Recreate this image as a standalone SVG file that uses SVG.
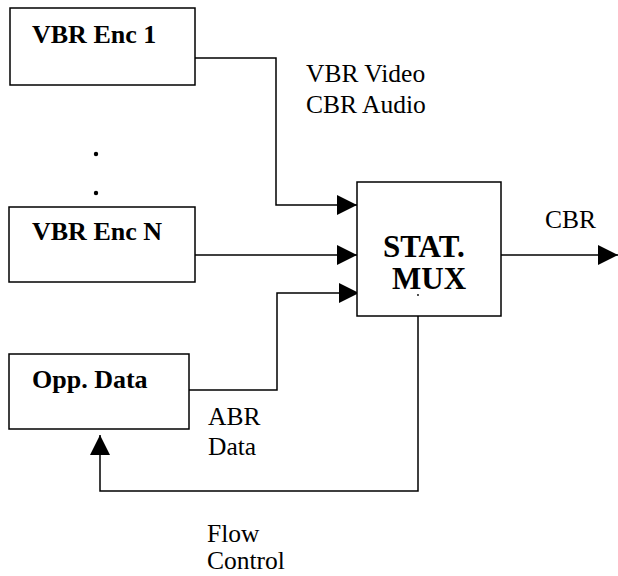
<svg xmlns="http://www.w3.org/2000/svg" width="618" height="576" viewBox="0 0 618 576">
  <style>
    .box { fill: #fff; stroke: #000; stroke-width: 1.5; }
    .wire { fill: none; stroke: #000; stroke-width: 1.5; }
    text { font-family: 'Liberation Serif', 'Times New Roman', Times, serif; fill: #000; }
    .title { font-weight: bold; font-size: 26px; }
    .big { font-weight: bold; font-size: 31px; }
    .label { font-size: 25.5px; }
  </style>
  <defs>
    <marker id="arrow" viewBox="0 0 20 20" refX="20" refY="10" markerWidth="20" markerHeight="20" markerUnits="userSpaceOnUse" orient="auto">
      <path d="M0,0 L20,10 L0,20 Z" fill="#000"/>
    </marker>
  </defs>
  <rect width="618" height="576" fill="#fff"/>

  <!-- signal paths between the blocks -->
  <g id="connectors">
    <polyline class="wire" points="195,58 276,58 276,205 357,205" marker-end="url(#arrow)"/>
    <polyline class="wire" points="195,255 357,255" marker-end="url(#arrow)"/>
    <polyline class="wire" points="189,390 277,390 277,293 359,293" marker-end="url(#arrow)"/>
    <polyline class="wire" points="501,255 618,255" marker-end="url(#arrow)"/>
    <polyline class="wire" points="418,316 418,491 100,491 100,435" marker-end="url(#arrow)"/>
  </g>

  <g id="enc1">
    <rect class="box" x="10" y="8" width="185" height="77"/>
    <text class="title" x="32" y="43">VBR Enc 1</text>
  </g>

  <g id="ellipsis">
    <circle cx="96" cy="154" r="2.2" fill="#000"/>
    <circle cx="96" cy="193" r="2.2" fill="#000"/>
  </g>

  <g id="encN">
    <rect class="box" x="9" y="207" width="186" height="75"/>
    <text class="title" x="32" y="240">VBR Enc N</text>
  </g>

  <g id="oppdata">
    <rect class="box" x="9" y="354" width="180" height="75"/>
    <text class="title" x="32" y="388">Opp. Data</text>
  </g>

  <g id="mux">
    <rect class="box" x="357" y="182" width="144" height="134"/>
    <text class="big" x="383" y="257">STAT.</text>
    <text class="big" x="392" y="289">MUX</text>
    <circle cx="418" cy="295" r="0.9" fill="#000"/>
  </g>

  <g id="labels">
    <text class="label" x="306" y="82">VBR Video</text>
    <text class="label" x="306" y="113">CBR Audio</text>
    <text class="label" x="545" y="228">CBR</text>
    <text class="label" x="208" y="425">ABR</text>
    <text class="label" x="208" y="455">Data</text>
    <text class="label" x="207" y="542">Flow</text>
    <text class="label" x="207" y="569">Control</text>
  </g>
</svg>
